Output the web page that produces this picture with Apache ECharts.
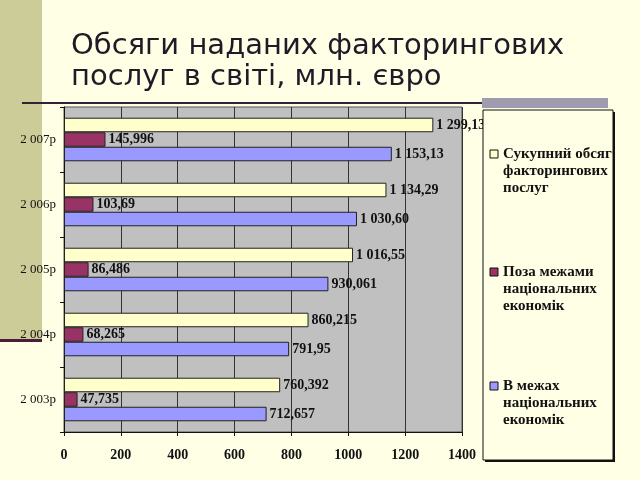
<!DOCTYPE html>
<html><head><meta charset="utf-8">
<script src="https://cdn.jsdelivr.net/npm/echarts@6/dist/echarts.min.js"></script>
<style>html,body{margin:0;padding:0;background:#FFFFE6;}#c{width:640px;height:480px;}</style>
</head><body><div id="c"></div>
<script>
const categories = ['2 003р', '2 004р', '2 005р', '2 006р', '2 007р'];
const totalValues = [760.392, 860.215, 1016.55, 1134.29, 1299.13];
const outsideValues = [47.735, 68.265, 86.486, 103.69, 145.996];
const insideValues = [712.657, 791.95, 930.061, 1030.60, 1153.13];
const totalLabels = ['760,392', '860,215', '1 016,55', '1 134,29', '1 299,13'];
const outsideLabels = ['47,735', '68,265', '86,486', '103,69', '145,996'];
const insideLabels = ['712,657', '791,95', '930,061', '1 030,60', '1 153,13'];
const xTicks = [0, 200, 400, 600, 800, 1000, 1200, 1400];
const seriesNames = ['Сукупний обсяг факторингових послуг', 'Поза межами національних економік', 'В межах національних економік'];
const legendLines = [['Сукупний обсяг', 'факторингових', 'послуг'], ['Поза межами', 'національних', 'економік'], ['В межах', 'національних', 'економік']];

const colors = ['#FFFFCC', '#993366', '#9999FF'];
const serif = '"Liberation Serif", "Times New Roman", serif';

function labelCfg(arr) {
  return { show: true, position: 'right', distance: 3, color: '#111', fontFamily: serif, fontWeight: 'bold', fontSize: 14,
    formatter: p => arr[p.dataIndex] };
}

const chart = echarts.init(document.getElementById('c'), null, { renderer: 'canvas' });
const legendY = [150, 268, 382];
const graphics = [
  { type: 'rect', shape: { x: 0, y: 0, width: 42, height: 340 }, style: { fill: '#CCCC99' }, z: -10 },
  { type: 'rect', shape: { x: 0, y: 339, width: 42, height: 3 }, style: { fill: '#4B1B3B' }, z: -9 },
  { type: 'rect', shape: { x: 22, y: 102, width: 460, height: 2 }, style: { fill: '#332233' }, z: -9 },
  { type: 'rect', shape: { x: 485, y: 112, width: 130, height: 350 }, style: { fill: '#111' }, z: 5 },
  { type: 'rect', shape: { x: 483, y: 110, width: 130, height: 350 }, style: { fill: '#FFFFE6', stroke: '#111', lineWidth: 1 }, z: 6 },
  { type: 'rect', shape: { x: 482, y: 98, width: 126, height: 10 }, style: { fill: '#A09CB0' }, z: 7 }
];
legendLines.forEach((lines, i) => {
  graphics.push({ type: 'rect', shape: { x: 490, y: legendY[i], width: 8, height: 8 }, style: { fill: colors[i], stroke: '#111', lineWidth: 1 }, z: 8 });
  graphics.push({ type: 'text', x: 503, y: legendY[i] - 4.5, style: { text: lines.join('\n'), fontFamily: serif, fontWeight: 'bold', fontSize: 15, lineHeight: 17, fill: '#111' }, z: 8 });
});

chart.setOption({
  backgroundColor: '#FFFFE6',
  animation: false,
  title: {
    text: 'Обсяги наданих факторингових\nпослуг в світі, млн. євро',
    left: 66, top: 26,
    textStyle: { fontFamily: '"DejaVu Sans", sans-serif', fontWeight: 'normal', fontSize: 29, lineHeight: 31, color: '#201A28' }
  },
  grid: { left: 64, top: 107, right: 178, bottom: 48, show: true, backgroundColor: '#C0C0C0', borderColor: '#555', borderWidth: 1 },
  xAxis: {
    type: 'value', min: 0, max: 1400, interval: 200,
    axisLine: { show: true, lineStyle: { color: '#111', width: 1 } },
    axisTick: { show: true, length: 4, lineStyle: { color: '#111' } },
    splitLine: { show: true, lineStyle: { color: '#333', width: 1 } },
    axisLabel: { margin: 16, color: '#111', fontFamily: serif, fontWeight: 'bold', fontSize: 14, formatter: v => String(v) }
  },
  yAxis: {
    type: 'category', data: categories,
    axisLine: { show: true, lineStyle: { color: '#111', width: 1 } },
    axisTick: { show: true, length: 4, alignWithLabel: false, lineStyle: { color: '#111' } },
    axisLabel: { margin: 8, color: '#111', fontFamily: serif, fontSize: 13 }
  },
  series: [
    { name: seriesNames[0], type: 'bar', data: totalValues, barGap: '0%', barCategoryGap: '33%',
      itemStyle: { color: colors[0], borderColor: '#222', borderWidth: 1 }, label: labelCfg(totalLabels) },
    { name: seriesNames[1], type: 'bar', data: outsideValues,
      itemStyle: { color: colors[1], borderColor: '#222', borderWidth: 1 }, label: labelCfg(outsideLabels) },
    { name: seriesNames[2], type: 'bar', data: insideValues,
      itemStyle: { color: colors[2], borderColor: '#222', borderWidth: 1 }, label: labelCfg(insideLabels) }
  ],
  graphic: graphics
});
</script></body></html>
